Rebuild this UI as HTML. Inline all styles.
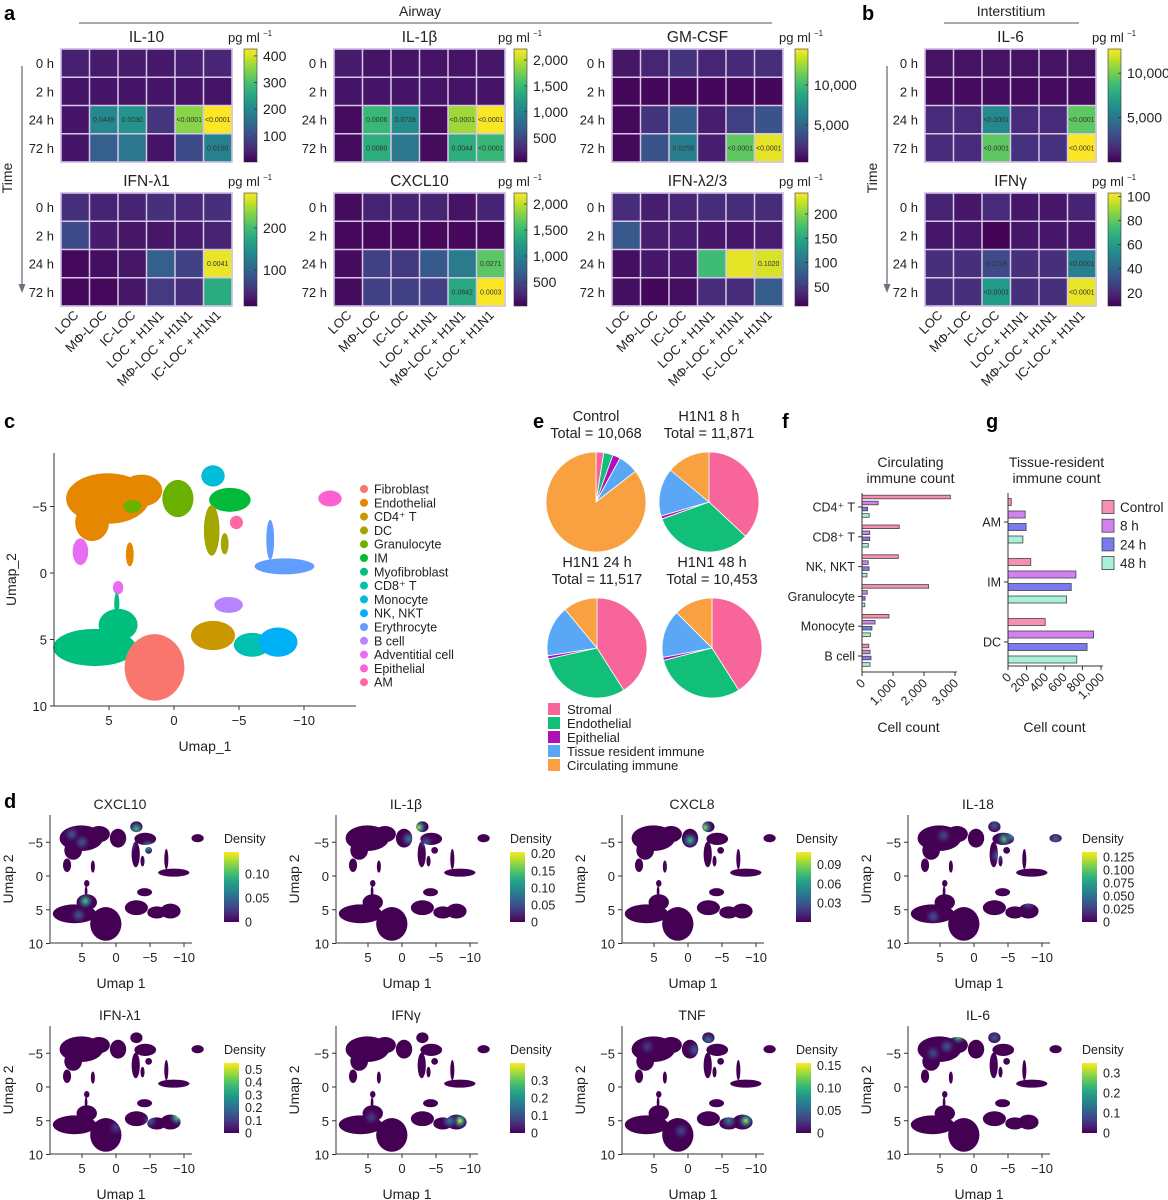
<!DOCTYPE html>
<html><head><meta charset="utf-8"><style>
html,body{margin:0;padding:0;background:#fff}
svg{display:block;font-family:"Liberation Sans",sans-serif}
</style></head><body>
<svg id="fig" width="1168" height="1200" viewBox="0 0 1168 1200" xmlns="http://www.w3.org/2000/svg">
<defs id="defs"></defs>
</svg>
<script>
// ---------- heatmap data ----------
const hmTitles = ['IL-10','IL-1β','GM-CSF','IL-6','IFN-λ1','CXCL10','IFN-λ2/3','IFNγ'];
const hmRows = ['0 h','2 h','24 h','72 h'];
const hmCols = ['LOC','MΦ-LOC','IC-LOC','LOC + H1N1','MΦ-LOC + H1N1','IC-LOC + H1N1'];
const valsIL10 = [[40,35,35,30,40,45],[25,25,25,25,25,25],[25,200,220,70,350,430],[25,130,170,25,100,190]];
const valsIL1b = [[200,150,150,150,150,170],[150,150,150,150,150,150],[100,1500,1100,100,1900,2200],[100,1400,900,100,1400,1500]];
const valsGMCSF = [[1200,1800,2500,1800,2000,2200],[600,600,600,600,600,600],[700,2500,4500,1500,3000,4000],[700,4000,6500,1500,11000,14000]];
const valsIL6 = [[600,600,600,600,600,600],[400,400,400,400,400,400],[1500,1500,6000,1500,1500,9500],[1500,1500,9500,1800,1800,12700]];
const valsIFNl1 = [[50,40,40,50,45,50],[75,35,30,30,35,40],[20,25,30,95,65,275],[20,20,30,60,50,180]];
const valsCXCL10 = [[100,250,250,250,150,250],[80,80,80,80,80,80],[100,450,400,650,950,1650],[100,450,450,450,1350,2200]];
const valsIFNl23 = [[40,30,35,40,40,40],[75,30,30,25,25,30],[20,25,25,170,235,230],[20,15,20,40,40,80]];
const valsIFNg = [[18,15,20,15,15,18],[15,15,10,15,15,15],[22,22,30,22,22,50],[22,22,60,22,22,100]];
const hmVals = [valsIL10,valsIL1b,valsGMCSF,valsIL6,valsIFNl1,valsCXCL10,valsIFNl23,valsIFNg];
const hmRange = [[2,426],[32,2214],[375,14500],[0,12730],[14,283],[39,2212],[11,243],[9,103]];
const hmTicks = [[100,200,300,400],[500,1000,1500,2000],[5000,10000],[5000,10000],[100,200],[500,1000,1500,2000],[50,100,150,200],[20,40,60,80,100]];
const hmPvals = [
 [[2,1,'0.0449'],[2,2,'0.0030'],[2,4,'<0.0001'],[2,5,'<0.0001'],[3,5,'0.0150']],
 [[2,1,'0.0006'],[2,2,'0.0728'],[2,4,'<0.0001'],[2,5,'<0.0001'],[3,1,'0.0080'],[3,4,'0.0044'],[3,5,'<0.0001']],
 [[3,2,'0.0259'],[3,4,'<0.0001'],[3,5,'<0.0001']],
 [[2,2,'<0.0001'],[2,5,'<0.0001'],[3,2,'<0.0001'],[3,5,'<0.0001']],
 [[2,5,'0.0041']],
 [[2,5,'0.0271'],[3,4,'0.0842'],[3,5,'0.0003']],
 [[2,5,'0.1020']],
 [[2,2,'0.0218'],[2,5,'<0.0001'],[3,2,'<0.0001'],[3,5,'<0.0001']]
];
// ---------- pie data ----------
const pieTitles = ['Control','H1N1 8 h','H1N1 24 h','H1N1 48 h'];
const pieTotals = ['Total = 10,068','Total = 11,871','Total = 11,517','Total = 10,453'];
const pieCats = ['Stromal','Endothelial','Epithelial','Tissue resident immune','Circulating immune'];
const pieControl = [2.5,3,2.5,6.5,85.5];
const pie8h = [37,32.5,1,15.5,14];
const pie24h = [41,30.5,1,16.5,11];
const pie48h = [41,30,1,15.5,12.5];
const pieVals = [pieControl,pie8h,pie24h,pie48h];
// ---------- bar data ----------
const fCats = ['CD4⁺ T','CD8⁺ T','NK, NKT','Granulocyte','Monocyte','B cell'];
const fControl = [2850,1200,1170,2150,870,220];
const f8h = [520,250,200,170,420,260];
const f24h = [180,250,230,100,320,290];
const f48h = [230,200,160,90,270,260];
const fTicks = [0,1000,2000,3000];
const gCats = ['AM','IM','DC'];
const gControl = [35,245,400];
const g8h = [185,730,920];
const g24h = [195,680,850];
const g48h = [160,630,740];
const gTicks = [0,200,400,600,800,1000];
const seriesNames = ['Control','8 h','24 h','48 h'];
// ---------- UMAP ----------
const umapLegend = ['Fibroblast','Endothelial','CD4⁺ T','DC','Granulocyte','IM','Myofibroblast','CD8⁺ T','Monocyte','NK, NKT','Erythrocyte','B cell','Adventitial cell','Epithelial','AM'];
const umapTicksX = [5,0,-5,-10];
const umapTicksY = [-5,0,5,10];
// clusters: [u1,u2,rx,ry,colorIdx]
const clusters = [
 [5.1,-5.6,3.2,1.9,1],[6.3,-3.8,1.3,1.4,1],[2.5,-6.2,1.6,1.2,1],
 [3.2,-5.0,0.7,0.5,4],[-0.3,-5.6,1.2,1.4,4],
 [-3,-7.3,0.9,0.8,8],[-4.3,-5.5,1.6,0.9,5],
 [-2.9,-3.2,0.6,1.9,3],[-4.8,-3.8,0.5,0.5,14],[-3.9,-2.2,0.3,0.8,3],
 [-12,-5.6,0.9,0.6,13],[7.2,-1.6,0.6,1.0,12],
 [-8.5,-0.5,2.3,0.6,10],[-7.4,-2.5,0.3,1.5,10],
 [-4.2,2.4,1.1,0.6,11],[-3,4.7,1.7,1.1,2],[-6,5.4,1.4,0.9,7],[-8,5.2,1.5,1.1,9],
 [6.1,5.6,3.2,1.4,6],[4.3,3.9,1.5,1.2,6],[1.5,7.1,2.3,2.5,0],
 [3.4,-1.4,0.3,0.9,1],[4.3,1.1,0.4,0.5,12],[4.4,2.3,0.2,0.8,6]
];
const clusterColors = ['#F8766D','#E58700','#C99800','#A3A500','#6BB100','#00BA38','#00BF7D','#00C0AF','#00BCD8','#00B0F6','#619CFF','#B983FF','#E76BF3','#FD61D1','#FF67A4'];
const densTitles = ['CXCL10','IL-1β','CXCL8','IL-18','IFN-λ1','IFNγ','TNF','IL-6'];
const densMax = [0.146,0.205,0.11,0.135,0.55,0.4,0.155,0.35];
const densTicks = [[0,0.05,0.10],[0,0.05,0.10,0.15,0.20],[0.03,0.06,0.09],[0,0.025,0.050,0.075,0.100,0.125],[0,0.1,0.2,0.3,0.4,0.5],[0,0.1,0.2,0.3],[0,0.05,0.10,0.15],[0,0.1,0.2,0.3]];
const densTickLabels = [['0','0.05','0.10'],['0','0.05','0.10','0.15','0.20'],['0.03','0.06','0.09'],['0','0.025','0.050','0.075','0.100','0.125'],['0','0.1','0.2','0.3','0.4','0.5'],['0','0.1','0.2','0.3'],['0','0.05','0.10','0.15'],['0','0.1','0.2','0.3']];
// hotspots: [u1,u2,relative level]
const densSpots = [
 [[-3,-7,0.7],[-4.7,-4.3,0.65],[-2,-4.6,0.4],[4.5,3.7,0.75],[5,-5,0.3],[6.5,-6.2,0.3],[5.5,5.8,0.3]],
 [[-2.5,-7.2,0.9],[-1,-5.5,0.45],[-3.5,-5,0.3]],
 [[-2.5,-7.2,0.85],[-0.3,-5.3,0.7],[2.5,-1.5,0.3]],
 [[-4.5,-5.5,0.8],[-5.6,-6,0.55],[-3.5,-3,0.35],[-3,-7.5,0.3],[-12,-5.5,0.35],[-8,4,0.3],[6,6,0.3],[4.5,-6,0.25]],
 [[-9,4.5,0.8],[-5,5,0.3],[0,6,0.2]],
 [[-8.5,5,1],[-7,5,0.45],[4.5,4.5,0.2]],
 [[-8.5,5,0.9],[-6,5,0.45],[-3,-7,0.4],[-1,-5.5,0.3],[1,6.5,0.25],[6,-6,0.2]],
 [[2.3,-7.5,0.85],[-3,-7.3,0.3],[6,-5,0.25],[4,-6,0.3]]
];

const NS='http://www.w3.org/2000/svg';
const svg=document.getElementById('fig');
const defs=document.getElementById('defs');
function E(tag,attrs,parent){const e=document.createElementNS(NS,tag);for(const k in attrs)e.setAttribute(k,attrs[k]);(parent||svg).appendChild(e);return e;}
function T(txt,x,y,size,anchor,parent,extra){const e=E('text',Object.assign({x:x,y:y,'font-size':size,'text-anchor':anchor||'middle',fill:'#222'},extra||{}),parent);e.textContent=txt;return e;}
const VS=[[68,1,84],[72,40,120],[62,74,137],[49,104,142],[38,130,142],[31,158,137],[53,183,121],[109,205,89],[180,222,44],[253,231,37]];
function vir(t){t=Math.max(0,Math.min(1,t));const p=t*9,i=Math.min(8,Math.floor(p)),f=p-i;const a=VS[i],b=VS[i+1];return 'rgb('+a.map((v,k)=>Math.round(v+(b[k]-v)*f)).join(',')+')';}
function fmt(n){return n.toLocaleString('en-US');}
let e;

// ---------- panel letters & headers ----------
const letters=[['a',4,20],['b',862,20],['c',4,428],['e',533,428],['f',782,428],['g',986,428],['d',4,808]];
letters.forEach(l=>{
 e=T(l[0],l[1],l[2],20,'start',svg,{'font-weight':'bold',fill:'#000'});
 
 
});
e=T('Airway',420,16,14,'middle');


e=E('line',{x1:79,y1:23,x2:772,y2:23,stroke:'#777','stroke-width':1.2});


e=T('Interstitium',1011,16,14,'middle');


e=E('line',{x1:944,y1:23,x2:1079,y2:23,stroke:'#777','stroke-width':1.2});


// time arrows
[[22,'time-axis-airway'],[887,'time-axis-interstitium']].forEach(a=>{
 const g=E('g',{});
 
 
 e=E('line',{x1:a[0],y1:66,x2:a[0],y2:286,stroke:'#6b7280','stroke-width':1.3},g);
 
 
 e=E('path',{d:`M${a[0]-3.5},284 L${a[0]+3.5},284 L${a[0]},293 Z`,fill:'#6b7280'},g);
 
 
 e=T('Time',0,0,14,'middle',g,{transform:`translate(${a[0]-10},178) rotate(-90)`});
 
 
});

// ---------- heatmaps ----------
const hmX=[61,334,612,925], hmY=[49,193], GW=171, GH=113, CBX=[244,514,795,1108];
hmTitles.forEach((title,h)=>{
 const ci=h%4, ri=Math.floor(h/4), gx=hmX[ci], gy=hmY[ri];
 const g=E('g',{});
 
 
 const [lo,hi]=hmRange[h], cw=GW/6, ch=GH/4;
 e=E('rect',{x:gx-1,y:gy-1,width:GW+2,height:GH+2,fill:'#d8c8e8'},g);
 
 
 hmVals[h].forEach((row,r)=>row.forEach((v,c)=>{
  e=E('rect',{x:gx+c*cw+0.75,y:gy+r*ch+0.75,width:cw-1.5,height:ch-1.5,fill:vir((v-lo)/(hi-lo))},g);
  
  
 }));
 hmPvals[h].forEach(p=>{
  e=T(p[2],gx+(p[1]+0.5)*cw,gy+(p[0]+0.5)*ch+2.5,7,'middle',g,{fill:'#333'});
  
  
 });
 e=T(title,gx+GW/2,gy-7,15.5,'middle',g);
 
 
 hmRows.forEach((rl,r)=>{
  e=T(rl,gx-7,gy+(r+0.5)*ch+5,13,'end',g);
  
  
 });
 if(ri===1){hmCols.forEach((cl,c)=>{
  const x=gx+(c+0.5)*cw+4, y=gy+GH+10;
  e=T(cl,0,0,13,'end',g,{transform:`translate(${x},${y}) rotate(-45)`});
  
  
 });}
 // colorbar
 const cx=CBX[ci];
 const gid='cb'+h;
 const lg=E('linearGradient',{id:gid,x1:0,y1:1,x2:0,y2:0},defs);
 for(let s=0;s<=10;s++){E('stop',{offset:s/10,'stop-color':vir(s/10)},lg);}
 e=E('rect',{x:cx,y:gy,width:13,height:GH,fill:`url(#${gid})`,stroke:'#333','stroke-width':0.6},g);
 
 
 hmTicks[h].forEach(tv=>{
  const ty=gy+GH-(tv-lo)/(hi-lo)*GH;
  e=E('line',{x1:cx+10,y1:ty,x2:cx+13,y2:ty,stroke:'#333','stroke-width':0.8},g);
  
  
  e=T(fmt(tv),cx+19,ty+5,14,'start',g);
  
  
 });
 e=T('pg ml',cx-16,gy-7,13,'start',g);
 
 
 e=T('−1',cx+19,gy-13,8,'start',g);
 
 
});

// ---------- UMAP drawing ----------
function drawClusters(g,ox,oy,sx,sy,colorFn){
 clusters.forEach(c=>{
  e=E('ellipse',{cx:ox-sx*c[0],cy:oy+sy*c[1],rx:sx*c[2],ry:sy*c[3],fill:colorFn(c[4])},g);
  
  
 });
}
function umapAxes(g,ox,oy,sx,sy,x0,x1,y0,y1,fs,xlab,ylab,ylx){
 e=E('path',{d:`M${x0},${y0} L${x0},${y1} L${x1},${y1}`,fill:'none',stroke:'#333','stroke-width':1},g);
 
 
 umapTicksX.forEach(t=>{const x=ox-sx*t;
  e=E('line',{x1:x,y1:y1,x2:x,y2:y1+4,stroke:'#333'},g);
  
  
  e=T(t<0?'−'+(-t):String(t),x,y1+19,fs,'middle',g);
  
  
 });
 umapTicksY.forEach(t=>{const y=oy+sy*t;
  e=E('line',{x1:x0-4,y1:y,x2:x0,y2:y,stroke:'#333'},g);
  
  
  e=T(t<0?'−'+(-t):String(t),x0-7,y+5,fs,'end',g);
  
  
 });
 e=T(xlab,(x0+x1)/2,y1+45,fs+1,'middle',g);
 
 
 e=T(ylab,0,0,fs+1,'middle',g,{transform:`translate(${ylx},${(y0+y1)/2}) rotate(-90)`});
 
 
}
// panel c
const gc=E('g',{});


drawClusters(gc,174,573,13,13.3,i=>clusterColors[i]);
umapAxes(gc,174,573,13,13.3,54,356,453,706,13,'Umap_1','Umap_2',16);
umapLegend.forEach((n,i)=>{
 const y=489+i*13.8;
 e=E('circle',{cx:364,cy:y,r:4,fill:clusterColors[i]},gc);
 
 
 e=T(n,374,y+4.5,12.5,'start',gc);
 
 
});

// ---------- pies ----------
const pieColors=['#F7659A','#12BF78','#B010B8','#5AA8F5','#F9A040'];
const pieCenters=[[596,502],[709,502],[597,648],[712,648]];
pieVals.forEach((vals,p)=>{
 const g=E('g',{});
 
 
 const [cx,cy]=pieCenters[p], r=50, tot=vals.reduce((a,b)=>a+b,0);
 let a0=0;
 vals.forEach((v,k)=>{
  const a1=a0+v/tot*2*Math.PI;
  const x0=cx+r*Math.sin(a0),y0=cy-r*Math.cos(a0),x1=cx+r*Math.sin(a1),y1=cy-r*Math.cos(a1);
  e=E('path',{d:`M${cx},${cy} L${x0},${y0} A${r},${r} 0 ${a1-a0>Math.PI?1:0} 1 ${x1},${y1} Z`,fill:pieColors[k],stroke:'#fff','stroke-width':0.8},g);
  
  
  a0=a1;
 });
 e=T(pieTitles[p],cx,cy-81,14.5,'middle',g);
 
 
 e=T(pieTotals[p],cx,cy-64,14.5,'middle',g);
 
 
});
pieCats.forEach((n,k)=>{
 const y=709+k*14;
 e=E('rect',{x:548,y:y-6,width:12,height:12,fill:pieColors[k]});
 
 
 e=T(n,567,y+5,13,'start');
 
 
});

// ---------- bar charts ----------
const barColors=['#F78FB3','#D580F0','#7A7AF0','#A8F0D8'];
function barChart(name,cats,series,ticks,x0,x1,max,y0,y1,groupY,offs,bh,title){
 const g=E('g',{});
 
 
 const sx=v=>x0+v/max*(x1-x0);
 series.forEach((s,si)=>s.forEach((v,ci)=>{
  e=E('rect',{x:x0,y:groupY(ci)+offs[si]-bh/2,width:sx(v)-x0,height:bh,fill:barColors[si],stroke:'#444','stroke-width':0.8},g);
  
  
 }));
 e=E('path',{d:`M${x0},${y0} L${x0},${y1} L${x1+2},${y1}`,fill:'none',stroke:'#333'},g);
 
 
 cats.forEach((c,ci)=>{
  e=E('line',{x1:x0-4,y1:groupY(ci),x2:x0,y2:groupY(ci),stroke:'#333'},g);
  
  
  e=T(c,x0-7,groupY(ci)+4.5,12.5,'end',g);
  
  
 });
 ticks.forEach(t=>{const x=sx(t);
  e=E('line',{x1:x,y1:y1,x2:x,y2:y1+4,stroke:'#333'},g);
  
  
  e=T(fmt(t),0,0,12.5,'end',g,{transform:`translate(${x+4},${y1+12}) rotate(-45)`});
  
  
 });
 e=T('Cell count',(x0+x1)/2,732,14,'middle',g);
 
 
 e=T(title[0],(x0+x1)/2+2,467,14,'middle',g);
 
 
 e=T(title[1],(x0+x1)/2+2,483,14,'middle',g);
 
 
}
barChart('bar-chart-circulating',fCats,[fControl,f8h,f24h,f48h],fTicks,862,955,3000,493,672,i=>507+i*29.8,[-10,-4,2,8.5],3.6,['Circulating','immune count']);
barChart('bar-chart-tissue-resident',gCats,[gControl,g8h,g24h,g48h],gTicks,1008,1101,1000,493,666,i=>522+i*60,[-20,-7.5,5,17.5],7,['Tissue-resident','immune count']);
seriesNames.forEach((n,k)=>{
 const y=507+k*18.7;
 e=E('rect',{x:1102,y:y-6.5,width:12,height:13,fill:barColors[k],stroke:'#444','stroke-width':0.8});
 
 
 e=T(n,1120,y+5,13.5,'start');
 
 
});

// ---------- density UMAPs ----------
densTitles.forEach((title,p)=>{
 const col=p%4,row=Math.floor(p/4);
 const dx=col*286, dy=row*211;
 const ox=116+dx, oy=876+dy, sx=6.8, sy=6.75;
 const g=E('g',{});
 
 
 drawClusters(g,ox,oy,sx,sy,()=>'#440154');
 const cp=E('clipPath',{id:'clip'+p},defs);
 drawClusters(cp,ox,oy,sx,sy,()=>'#000');
 const hg=E('g',{'clip-path':`url(#clip${p})`},g);
 
 
 densSpots[p].forEach((s,k)=>{
  const id='ds'+p+'_'+k;
  const rg=E('radialGradient',{id:id},defs);
  E('stop',{offset:0,'stop-color':vir(s[2])},rg);
  E('stop',{offset:0.45,'stop-color':vir(s[2]*0.5),'stop-opacity':0.8},rg);
  E('stop',{offset:1,'stop-color':'#440154','stop-opacity':0},rg);
  e=E('circle',{cx:ox-sx*s[0],cy:oy+sy*s[1],r:9,fill:`url(#${id})`},hg);
  
  
 });
 umapAxes(g,ox,oy,sx,sy,50+dx,192+dx,815+dy,943+dy,13,'Umap 1','Umap 2',13+dx);
 e=T(title,120+dx,809+dy,14,'middle',g);
 
 
 e=T('Density',224+dx,843+dy,12.5,'start',g);
 
 
 const gid='dcb'+p;
 const lg=E('linearGradient',{id:gid,x1:0,y1:1,x2:0,y2:0},defs);
 for(let s=0;s<=10;s++){E('stop',{offset:s/10,'stop-color':vir(s/10)},lg);}
 const cbx=224+dx, cby=852+dy, cbh=70;
 e=E('rect',{x:cbx,y:cby,width:15,height:cbh,fill:`url(#${gid})`},g);
 
 
 densTicks[p].forEach((t,k)=>{
  const y=cby+cbh-t/densMax[p]*cbh;
  e=T(densTickLabels[p][k],cbx+21,y+4.5,12.5,'start',g);
  
  
 });
});
</script>
</body></html>
